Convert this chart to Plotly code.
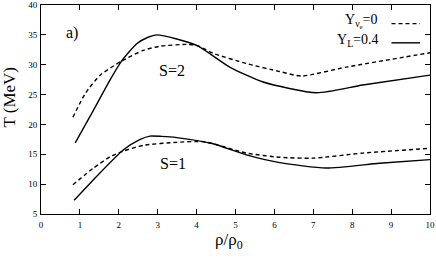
import plotly.graph_objects as go

# S=2, Y_L=0.4 (solid)
rho_s2_yl = [0.88, 1.35, 1.78, 2.07, 2.46, 2.75, 2.97, 3.49, 4.04, 4.85, 5.71, 7.08, 8.27, 10.0]
T_s2_yl = [16.9, 22.4, 27.5, 30.6, 33.5, 34.6, 35.0, 34.3, 33.1, 29.6, 27.1, 25.3, 26.6, 28.25]
# S=2, Y_nu=0 (dashed)
rho_s2_yn = [0.82, 1.14, 1.52, 2.07, 2.63, 3.06, 3.74, 4.0, 4.43, 5.28, 6.14, 6.69, 7.85, 10.0]
T_s2_yn = [21.2, 25.2, 28.25, 30.6, 32.4, 33.1, 33.4, 33.25, 31.9, 30.2, 28.85, 28.1, 29.6, 32.0]
# S=1, Y_L=0.4 (solid)
rho_s1_yl = [0.85, 1.35, 2.12, 2.55, 2.8, 3.1, 3.49, 4.4, 5.28, 6.14, 7.33, 8.7, 10.0]
T_s1_yl = [7.3, 10.75, 15.75, 17.5, 18.05, 18.0, 17.8, 16.8, 14.9, 13.6, 12.7, 13.5, 14.1]
# S=1, Y_nu=0 (dashed)
rho_s1_yn = [0.82, 1.35, 1.78, 2.12, 2.63, 3.49, 4.2, 5.28, 6.14, 7.0, 8.27, 10.0]
T_s1_yn = [9.9, 12.7, 14.6, 15.55, 16.5, 17.0, 17.1, 15.2, 14.5, 14.35, 15.2, 16.0]

x_ticks = list(range(0, 11))
y_ticks = list(range(5, 41, 5))

FONT = "Liberation Serif, Times New Roman, serif"
LW = 1.4
DASH = "4px,3px"

fig = go.Figure()
for xs, ys, dash in [(rho_s2_yn, T_s2_yn, DASH), (rho_s2_yl, T_s2_yl, "solid"),
                     (rho_s1_yn, T_s1_yn, DASH), (rho_s1_yl, T_s1_yl, "solid")]:
    fig.add_trace(go.Scatter(x=xs, y=ys, mode="lines",
                             line=dict(color="black", width=LW, dash=dash,
                                       shape="spline", smoothing=0.6),
                             showlegend=False, hoverinfo="skip"))

axis_common = dict(showline=True, linecolor="black", linewidth=1, mirror="ticks",
                   ticks="inside", ticklen=5, tickcolor="black", tickwidth=1,
                   showgrid=False, zeroline=False, automargin=False,
                   ticklabeloverflow="allow",
                   tickfont=dict(family=FONT, size=9, color="black"))

fig.update_xaxes(range=[0, 10], tickvals=x_ticks, ticklabelstandoff=2, **axis_common)
fig.update_yaxes(range=[5, 40], tickvals=y_ticks, ticklabelstandoff=1, **axis_common)

# axis titles
fig.add_annotation(xref="paper", yref="paper", x=(229 - 41) / 389, y=-(242 - 214.5) / 210,
                   text="ρ/ρ<sub>0</sub>", showarrow=False, yanchor="middle",
                   font=dict(family=FONT, size=17, color="black"))
fig.add_annotation(xref="paper", yref="paper", x=-(41 - 10) / 389, y=(214.5 - 97.5) / 210,
                   text="T (MeV)", showarrow=False, textangle=-90,
                   xanchor="center", yanchor="middle",
                   font=dict(family=FONT, size=17, color="black"))

ann_font = dict(family=FONT, size=16, color="black")
fig.add_annotation(x=0.79, y=35.25, text="a)", showarrow=False, font=ann_font)
fig.add_annotation(x=3.37, y=29.1, text="S=2", showarrow=False, font=ann_font)
fig.add_annotation(x=3.4, y=13.4, text="S=1", showarrow=False, font=ann_font)

# legend (text left of sample lines)
leg_font = dict(family=FONT, size=14, color="black")
fig.add_annotation(xref="paper", yref="paper", x=(380 - 41) / 389, y=(214.5 - 21) / 210,
                   xanchor="right", yanchor="middle",
                   text="Y<sub>ν<sub>e</sub></sub>=0", showarrow=False, font=leg_font)
fig.add_annotation(xref="paper", yref="paper", x=(381 - 41) / 389, y=(214.5 - 40) / 210,
                   xanchor="right", yanchor="middle",
                   text="Y<sub>L</sub>=0.4", showarrow=False, font=leg_font)
fig.add_shape(type="line", xref="paper", yref="paper",
              x0=(391.5 - 41) / 389, x1=(420 - 41) / 389,
              y0=(214.5 - 23.3) / 210, y1=(214.5 - 23.3) / 210,
              line=dict(color="black", width=1.2, dash=DASH))
fig.add_shape(type="line", xref="paper", yref="paper",
              x0=(391.5 - 41) / 389, x1=(420 - 41) / 389,
              y0=(214.5 - 42.5) / 210, y1=(214.5 - 42.5) / 210,
              line=dict(color="black", width=LW))

fig.update_layout(width=436, height=259,
                  margin=dict(l=41, r=6, t=4.5, b=44.5),
                  paper_bgcolor="white", plot_bgcolor="white",
                  font=dict(family=FONT, color="black"))

fig.write_html("out.html", config={"displayModeBar": False},
               post_script="document.body.style.margin='0px';document.body.style.padding='0px';")
